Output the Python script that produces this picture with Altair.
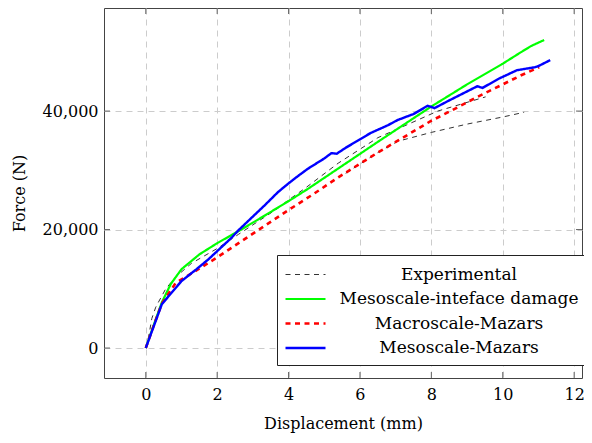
import altair as alt
import pandas as pd

# ---- data ----
series_names = ["Experimental", "Mesoscale-inteface damage", "Macroscale-Mazars", "Mesoscale-Mazars"]

exp_up_x = [0, 0.08, 0.17, 0.28, 0.45, 0.56, 0.84, 1.28, 2.0, 2.6, 3.63, 4.0, 4.47, 5.39, 6.5, 7.06, 8.18, 9.52]
exp_up_y = [0, 1900, 5000, 6900, 8800, 10000, 12000, 14300, 16800, 19200, 23300, 25000, 27000, 31200, 35500, 37000, 40000, 42400]

exp_low_x = [5.6, 6.5, 7.06, 8.0, 9.0, 10.0, 10.6]
exp_low_y = [29500, 33000, 34900, 36400, 37800, 39000, 39800]

green_x = [0, 0.2, 0.45, 0.7, 1.0, 1.5, 2.0, 2.5, 3.15, 4.0, 4.55, 5.39, 6.5, 7.98, 9.0, 10.0, 10.5, 10.8, 11.16]
green_y = [0, 3500, 7700, 10800, 13300, 15800, 17700, 19400, 21700, 24800, 26900, 30300, 34800, 40700, 44500, 48000, 49900, 51000, 52000]

red_x = [0, 0.2, 0.45, 0.84, 1.34, 2.0, 2.6, 3.3, 4.0, 4.7, 5.39, 6.5, 7.06, 7.98, 8.6, 9.29, 10.0, 10.5, 11.02]
red_y = [0, 3400, 7500, 11000, 12800, 15300, 17700, 20500, 23300, 26000, 28800, 33000, 35000, 38300, 40200, 42400, 44500, 46000, 47400]

blue_x = [0, 0.45, 1.0, 1.4, 1.76, 2.4, 2.6, 3.35, 3.7, 4.0, 4.3, 4.55, 5.0, 5.2, 5.35, 5.6, 6.3, 6.78, 7.06, 7.5, 7.9, 8.09,
          8.5, 9.29, 9.43, 9.9, 10.4, 10.9, 11.0, 11.33]
blue_y = [0, 7400, 11300, 13200, 15000, 18600, 19900, 24200, 26300, 27800, 29200, 30300, 32000, 32900, 32800, 33800, 36300, 37600,
          38500, 39500, 40900, 40500, 41800, 44200, 43900, 45500, 46900, 47400, 47600, 48600]

x_ticks = [0, 2, 4, 6, 8, 10, 12]
y_ticks = [0, 20000, 40000]

colors = ["#333333", "#00ff00", "#ff0000", "#0000ff"]
dashes = [[5, 4.5], [1, 0], [5, 4.5], [1, 0]]
widths = [1.0, 2.2, 2.6, 2.4]

rows = []
def add(name, branch, xs, ys):
    for i, (a, b) in enumerate(zip(xs, ys)):
        rows.append({"series": name, "branch": branch, "order": i, "d": a, "f": b})

add(series_names[0], "a", exp_up_x, exp_up_y)
add(series_names[0], "b", exp_low_x, exp_low_y)
add(series_names[1], "a", green_x, green_y)
add(series_names[2], "a", red_x, red_y)
add(series_names[3], "a", blue_x, blue_y)
df = pd.DataFrame(rows)

FONT = "DejaVu Serif"
W, H = 478, 370
xscale = alt.Scale(domain=[-1.17, 12.22], nice=False, zero=False)
yscale = alt.Scale(domain=[-5060, 57400], nice=False, zero=False)

legend = alt.Legend(
    title=None, orient="none", legendX=173, legendY=247,
    symbolType="M-2,0H2", symbolSize=400, rowPadding=4.5, symbolOffset=8,
    labelAlign="center", labelOffset=142,
    labelFont=FONT, labelFontSize=17, labelColor="#000",
    padding=9, strokeColor="#222", fillColor="#ffffff", cornerRadius=0,
    labelLimit=400,
)

base = alt.Chart(df).mark_line(clip=True).encode(
    x=alt.X("d:Q", scale=xscale,
            axis=alt.Axis(values=x_ticks, title="Displacement (mm)", grid=True, domain=False,
                          tickSize=0, labelPadding=8, titlePadding=13)),
    y=alt.Y("f:Q", scale=yscale,
            axis=alt.Axis(values=y_ticks, format=",d", title="Force (N)", grid=True, domain=False,
                          tickSize=0, labelPadding=6, titlePadding=15)),
    color=alt.Color("series:N", scale=alt.Scale(domain=series_names, range=colors), legend=legend),
    strokeDash=alt.StrokeDash("series:N", scale=alt.Scale(domain=series_names, range=dashes), legend=legend),
    strokeWidth=alt.StrokeWidth("series:N", scale=alt.Scale(type="ordinal", domain=series_names, range=widths),
                                legend=legend),
    detail="branch:N",
    order="order:Q",
)

layers = [base.transform_filter(alt.datum.series == s) for s in series_names]

tx = pd.DataFrame({"v": x_ticks})
ty = pd.DataFrame({"v": y_ticks})
tick_color = "#666666"
xt_bot = alt.Chart(tx).mark_rule(color=tick_color, strokeWidth=1).encode(
    x=alt.X("v:Q", scale=xscale), y=alt.value(H - 6), y2=alt.value(H))
xt_top = alt.Chart(tx).mark_rule(color=tick_color, strokeWidth=1).encode(
    x=alt.X("v:Q", scale=xscale), y=alt.value(0), y2=alt.value(6))
yt_left = alt.Chart(ty).mark_rule(color=tick_color, strokeWidth=1).encode(
    y=alt.Y("v:Q", scale=yscale), x=alt.value(0), x2=alt.value(6))
yt_right = alt.Chart(ty).mark_rule(color=tick_color, strokeWidth=1).encode(
    y=alt.Y("v:Q", scale=yscale), x=alt.value(W - 6), x2=alt.value(W))

chart = alt.layer(xt_bot, xt_top, yt_left, yt_right, *layers).properties(
    width=W, height=H,
    autosize=alt.AutoSizeParams(type="none"),
    padding={"left": 96, "top": 0, "right": 2, "bottom": 57},
).configure_view(
    stroke="#444444", strokeWidth=1
).configure_axis(
    labelFont=FONT, titleFont=FONT, labelFontSize=16, titleFontSize=16,
    labelColor="#000", titleColor="#000", titleFontWeight="normal",
    gridColor="#cccccc", gridDash=[6, 5], gridWidth=1,
)

chart.save("out.html", embed_options={"renderer": "svg", "actions": False})
